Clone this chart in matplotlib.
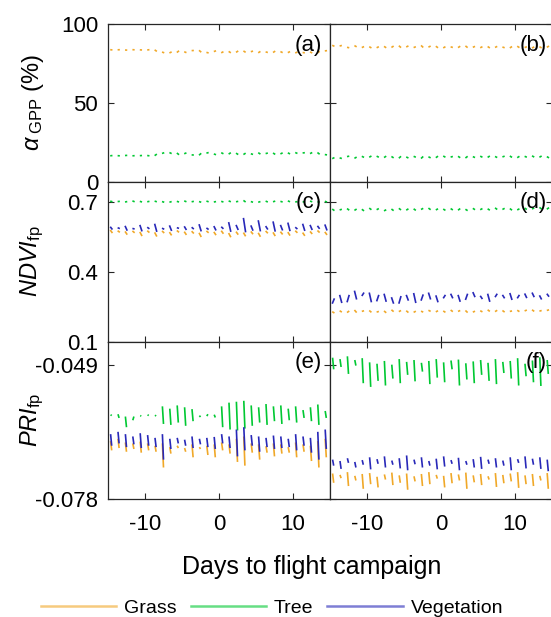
import numpy as np
import matplotlib
matplotlib.use('Agg')
import matplotlib.pyplot as plt
from matplotlib.lines import Line2D

plt.rcParams['font.family'] = 'Liberation Sans'
plt.rcParams['mathtext.fontset'] = 'custom'
plt.rcParams['mathtext.rm'] = 'Liberation Sans'
plt.rcParams['mathtext.it'] = 'Liberation Sans:italic'
plt.rcParams['axes.unicode_minus'] = False

# day index relative to the flight campaign, one daytime segment per day
days = np.arange(-15, 15)

# ---- alpha_GPP (%) : left site (a), right site (b)
grass_a_am = [83.7, 83.6, 83.5, 83.7, 83.6, 83.5, 83.6, 82.2, 81.6, 81.9, 82.4, 83.1, 83.3, 82.0, 82.5,
              81.7, 82.6, 82.0, 82.9, 82.4, 81.7, 82.3, 81.9, 82.5, 81.8, 81.6, 81.9, 82.3, 81.6, 82.9]
grass_a_pm = [83.5, 83.7, 83.4, 83.6, 83.5, 83.7, 82.6, 81.7, 82.3, 83.0, 81.8, 83.2, 82.1, 81.6, 83.0,
              82.4, 81.7, 82.9, 82.0, 82.8, 82.6, 81.9, 82.8, 81.8, 82.5, 82.2, 81.7, 81.6, 82.7, 83.1]
tree_a_am = [16.3, 16.4, 16.5, 16.3, 16.4, 16.5, 16.4, 17.8, 18.4, 18.1, 17.6, 16.9, 16.7, 18.0, 17.5,
             18.3, 17.4, 18.0, 17.1, 17.6, 18.3, 17.7, 18.1, 17.5, 18.2, 18.4, 18.1, 17.7, 18.4, 17.1]
tree_a_pm = [16.5, 16.3, 16.6, 16.4, 16.5, 16.3, 17.4, 18.3, 17.7, 17.0, 18.2, 16.8, 17.9, 18.4, 17.0,
             17.6, 18.3, 17.1, 18.0, 17.2, 17.4, 18.1, 17.2, 18.2, 17.5, 17.8, 18.3, 18.4, 17.3, 16.9]

grass_b_am = [86.5, 86.0, 85.2, 86.3, 85.0, 85.6, 84.9, 85.8, 85.1, 86.2, 85.4, 85.0, 86.4, 85.3, 85.9,
              84.8, 85.5, 85.0, 86.1, 85.2, 84.9, 85.7, 85.1, 85.4, 84.8, 85.9, 85.0, 84.7, 85.6, 85.2]
grass_b_pm = [85.8, 86.4, 84.9, 85.5, 85.7, 84.8, 85.6, 84.9, 86.0, 85.0, 86.1, 85.6, 85.1, 86.0, 84.9,
              85.6, 85.1, 85.9, 85.0, 85.8, 85.6, 84.8, 85.8, 84.9, 85.7, 85.0, 85.6, 85.5, 84.8, 86.0]
tree_b_am = [14.5, 15.0, 15.8, 14.7, 16.0, 15.4, 16.1, 15.2, 15.9, 14.8, 15.6, 16.0, 14.6, 15.7, 15.1,
             16.2, 15.5, 16.0, 14.9, 15.8, 16.1, 15.3, 15.9, 15.6, 16.2, 15.1, 16.0, 16.3, 15.4, 15.8]
tree_b_pm = [15.2, 14.6, 16.1, 15.5, 15.3, 16.2, 15.4, 16.1, 15.0, 16.0, 14.9, 15.4, 15.9, 15.0, 16.1,
             15.4, 15.9, 15.1, 16.0, 15.2, 15.4, 16.2, 15.2, 16.1, 15.3, 16.0, 15.4, 15.5, 16.2, 15.0]

# ---- NDVI_fp : (c), (d)
grass_c_am = [0.578, 0.575, 0.572, 0.574, 0.570, 0.575, 0.568, 0.574, 0.569, 0.576, 0.571, 0.573, 0.566, 0.574, 0.570,
              0.575, 0.565, 0.571, 0.567, 0.572, 0.566, 0.574, 0.568, 0.571, 0.569, 0.575, 0.567, 0.572, 0.576, 0.570]
grass_c_pm = [0.565, 0.568, 0.558, 0.566, 0.552, 0.567, 0.550, 0.565, 0.555, 0.568, 0.557, 0.563, 0.548, 0.566, 0.556,
              0.562, 0.547, 0.558, 0.551, 0.560, 0.549, 0.564, 0.552, 0.559, 0.554, 0.566, 0.553, 0.561, 0.567, 0.557]
tree_c_am = [0.702, 0.700, 0.698, 0.703, 0.701, 0.699, 0.702, 0.700, 0.697, 0.701, 0.703, 0.699, 0.700, 0.702, 0.698,
             0.701, 0.703, 0.699, 0.705, 0.700, 0.697, 0.702, 0.699, 0.701, 0.703, 0.698, 0.700, 0.702, 0.697, 0.701]
tree_c_pm = [0.699, 0.701, 0.700, 0.699, 0.698, 0.701, 0.699, 0.697, 0.700, 0.698, 0.699, 0.701, 0.697, 0.699, 0.700,
             0.698, 0.699, 0.701, 0.698, 0.697, 0.700, 0.698, 0.702, 0.698, 0.699, 0.700, 0.697, 0.699, 0.700, 0.698]
veg_c_am = [0.592, 0.588, 0.596, 0.585, 0.600, 0.590, 0.605, 0.586, 0.598, 0.588, 0.594, 0.590, 0.603, 0.587, 0.595,
            0.592, 0.612, 0.600, 0.630, 0.598, 0.620, 0.595, 0.615, 0.600, 0.610, 0.590, 0.605, 0.600, 0.596, 0.602]
veg_c_pm = [0.580, 0.584, 0.575, 0.582, 0.572, 0.583, 0.570, 0.581, 0.574, 0.585, 0.578, 0.582, 0.572, 0.580, 0.576,
            0.583, 0.570, 0.578, 0.568, 0.575, 0.572, 0.580, 0.571, 0.576, 0.573, 0.582, 0.574, 0.578, 0.583, 0.576]

grass_d_am = [0.228, 0.232, 0.224, 0.235, 0.229, 0.233, 0.226, 0.231, 0.236, 0.228, 0.232, 0.225, 0.230, 0.234, 0.227,
              0.231, 0.235, 0.229, 0.233, 0.226, 0.232, 0.236, 0.228, 0.233, 0.229, 0.234, 0.231, 0.236, 0.230, 0.233]
grass_d_pm = [0.222, 0.226, 0.231, 0.224, 0.232, 0.225, 0.229, 0.223, 0.228, 0.233, 0.224, 0.230, 0.226, 0.229, 0.232,
              0.225, 0.228, 0.233, 0.224, 0.230, 0.227, 0.229, 0.234, 0.226, 0.231, 0.228, 0.235, 0.229, 0.233, 0.236]
tree_d_am = [0.668, 0.664, 0.670, 0.662, 0.667, 0.672, 0.665, 0.660, 0.668, 0.671, 0.663, 0.669, 0.666, 0.672, 0.664,
             0.668, 0.670, 0.663, 0.667, 0.671, 0.665, 0.669, 0.673, 0.666, 0.670, 0.664, 0.672, 0.668, 0.675, 0.667]
tree_d_pm = [0.661, 0.667, 0.663, 0.668, 0.660, 0.665, 0.670, 0.665, 0.661, 0.664, 0.669, 0.662, 0.671, 0.665, 0.669,
             0.662, 0.664, 0.670, 0.661, 0.665, 0.670, 0.663, 0.666, 0.671, 0.663, 0.669, 0.666, 0.673, 0.668, 0.674]
veg_d_am = [0.262, 0.300, 0.268, 0.318, 0.295, 0.310, 0.272, 0.305, 0.290, 0.262, 0.300, 0.308, 0.275, 0.310, 0.298,
            0.285, 0.305, 0.300, 0.278, 0.312, 0.296, 0.305, 0.290, 0.300, 0.308, 0.285, 0.306, 0.310, 0.298, 0.305]
veg_d_pm = [0.285, 0.265, 0.300, 0.280, 0.310, 0.268, 0.300, 0.270, 0.262, 0.295, 0.275, 0.265, 0.302, 0.280, 0.268,
            0.300, 0.285, 0.270, 0.305, 0.290, 0.282, 0.270, 0.305, 0.285, 0.278, 0.300, 0.286, 0.290, 0.280, 0.292]

# ---- PRI_fp : (e), (f)
grass_e_am = [-0.0655, -0.0650, -0.0658, -0.0660, -0.0656, -0.0660, -0.0665, -0.0660, -0.0668, -0.0665,
              -0.0670, -0.0662, -0.0668, -0.0665, -0.0662, -0.0658, -0.0662, -0.0650, -0.0645, -0.0660,
              -0.0662, -0.0666, -0.0660, -0.0662, -0.0668, -0.0658, -0.0662, -0.0665, -0.0655, -0.0650]
grass_e_pm = [-0.0675, -0.0670, -0.0678, -0.0672, -0.0680, -0.0675, -0.0678, -0.0712, -0.0682, -0.0670,
              -0.0678, -0.0690, -0.0672, -0.0685, -0.0690, -0.0675, -0.0682, -0.0700, -0.0708, -0.0680,
              -0.0695, -0.0680, -0.0688, -0.0682, -0.0680, -0.0690, -0.0678, -0.0698, -0.0712, -0.0690]
tree_e_am = [-0.0598, -0.0597, -0.0602, -0.0610, -0.0600, -0.0598, -0.0599, -0.0580, -0.0585, -0.0578,
             -0.0582, -0.0586, -0.0600, -0.0601, -0.0598, -0.0580, -0.0572, -0.0570, -0.0568, -0.0578,
             -0.0582, -0.0575, -0.0580, -0.0578, -0.0585, -0.0580, -0.0588, -0.0582, -0.0576, -0.0590]
tree_e_pm = [-0.0600, -0.0605, -0.0625, -0.0602, -0.0601, -0.0600, -0.0601, -0.0618, -0.0620, -0.0615,
             -0.0622, -0.0612, -0.0603, -0.0597, -0.0604, -0.0625, -0.0630, -0.0632, -0.0628, -0.0622,
             -0.0615, -0.0620, -0.0612, -0.0618, -0.0610, -0.0615, -0.0605, -0.0612, -0.0620, -0.0605]
veg_e_am = [-0.0640, -0.0635, -0.0640, -0.0645, -0.0638, -0.0642, -0.0648, -0.0640, -0.0650, -0.0648,
            -0.0652, -0.0645, -0.0650, -0.0648, -0.0646, -0.0640, -0.0645, -0.0630, -0.0625, -0.0642,
            -0.0645, -0.0648, -0.0643, -0.0645, -0.0650, -0.0640, -0.0645, -0.0648, -0.0635, -0.0630]
veg_e_pm = [-0.0665, -0.0660, -0.0668, -0.0662, -0.0670, -0.0665, -0.0668, -0.0695, -0.0672, -0.0660,
            -0.0665, -0.0670, -0.0662, -0.0668, -0.0672, -0.0660, -0.0670, -0.0688, -0.0675, -0.0665,
            -0.0678, -0.0668, -0.0672, -0.0670, -0.0668, -0.0675, -0.0665, -0.0680, -0.0695, -0.0672]

grass_f_am = [-0.0725, -0.0728, -0.0722, -0.0730, -0.0726, -0.0724, -0.0732, -0.0727, -0.0723, -0.0729,
              -0.0725, -0.0731, -0.0726, -0.0722, -0.0728, -0.0730, -0.0724, -0.0727, -0.0723, -0.0729,
              -0.0726, -0.0731, -0.0724, -0.0728, -0.0725, -0.0722, -0.0729, -0.0726, -0.0730, -0.0724]
grass_f_pm = [-0.0745, -0.0735, -0.0752, -0.0740, -0.0758, -0.0748, -0.0755, -0.0738, -0.0750, -0.0745,
              -0.0760, -0.0742, -0.0752, -0.0748, -0.0736, -0.0755, -0.0746, -0.0740, -0.0758, -0.0744,
              -0.0750, -0.0738, -0.0754, -0.0746, -0.0742, -0.0756, -0.0748, -0.0752, -0.0740, -0.0758]
tree_f_am = [-0.0475, -0.0478, -0.0472, -0.0480, -0.0476, -0.0485, -0.0488, -0.0482, -0.0490, -0.0478,
             -0.0484, -0.0480, -0.0486, -0.0482, -0.0478, -0.0485, -0.0481, -0.0479, -0.0487, -0.0483,
             -0.0480, -0.0486, -0.0478, -0.0484, -0.0482, -0.0476, -0.0488, -0.0481, -0.0474, -0.0480]
tree_f_pm = [-0.0500, -0.0495, -0.0510, -0.0492, -0.0530, -0.0538, -0.0525, -0.0535, -0.0520, -0.0530,
             -0.0512, -0.0526, -0.0505, -0.0532, -0.0518, -0.0528, -0.0500, -0.0535, -0.0522, -0.0530,
             -0.0512, -0.0525, -0.0532, -0.0508, -0.0520, -0.0535, -0.0515, -0.0528, -0.0536, -0.0510]
veg_f_am = [-0.0695, -0.0698, -0.0692, -0.0700, -0.0696, -0.0690, -0.0694, -0.0688, -0.0697, -0.0692,
            -0.0686, -0.0695, -0.0690, -0.0698, -0.0693, -0.0688, -0.0696, -0.0691, -0.0698, -0.0694,
            -0.0689, -0.0695, -0.0692, -0.0697, -0.0690, -0.0694, -0.0688, -0.0693, -0.0690, -0.0695]
veg_f_pm = [-0.0708, -0.0715, -0.0702, -0.0712, -0.0706, -0.0716, -0.0704, -0.0712, -0.0706, -0.0714,
            -0.0718, -0.0705, -0.0712, -0.0708, -0.0716, -0.0710, -0.0704, -0.0718, -0.0706, -0.0712,
            -0.0715, -0.0704, -0.0712, -0.0708, -0.0718, -0.0702, -0.0714, -0.0706, -0.0715, -0.0720]

c_grass = '#F0A828'
c_tree = '#00C832'
c_veg = '#2828B8'

y_limits = [(0, 100), (0.1, 0.786), (-0.078, -0.044)]
y_ticks = [[0, 50, 100], [0.1, 0.4, 0.7], [-0.078, -0.049]]
y_ticklabels = [['0', '50', '100'], ['0.1', '0.4', '0.7'], ['-0.078', '-0.049']]
y_labels = [r'$\alpha_{\;\mathrm{GPP}}$ (%)', r'$NDVI_{\mathrm{fp}}$', r'$PRI_{\mathrm{fp}}$']
x_ticks = [-10, 0, 10]
panel_tags = [['(a)', '(b)'], ['(c)', '(d)'], ['(e)', '(f)']]

panels = [
    [[(grass_a_am, grass_a_pm, c_grass), (tree_a_am, tree_a_pm, c_tree)],
     [(grass_b_am, grass_b_pm, c_grass), (tree_b_am, tree_b_pm, c_tree)]],
    [[(grass_c_am, grass_c_pm, c_grass), (tree_c_am, tree_c_pm, c_tree), (veg_c_am, veg_c_pm, c_veg)],
     [(grass_d_am, grass_d_pm, c_grass), (tree_d_am, tree_d_pm, c_tree), (veg_d_am, veg_d_pm, c_veg)]],
    [[(grass_e_am, grass_e_pm, c_grass), (tree_e_am, tree_e_pm, c_tree), (veg_e_am, veg_e_pm, c_veg)],
     [(grass_f_am, grass_f_pm, c_grass), (tree_f_am, tree_f_pm, c_tree), (veg_f_am, veg_f_pm, c_veg)]],
]


def day_segments(am, pm, t0=0.3, t1=0.6):
    """One short daytime segment per day, broken by NaN at night."""
    xs, ys = [], []
    for d, a, p in zip(days, am, pm):
        xs += [d + t0, d + t1, np.nan]
        ys += [a, p, np.nan]
    return xs, ys


W, H = 551, 617
fig = plt.figure(figsize=(W / 100, H / 100), dpi=100)

col_left = [108, 330]
col_width = 222
row_top = [24, 181.5, 341.5]
row_bottom = [181.5, 341.5, 499]

for r in range(3):
    for c in range(2):
        ax = fig.add_axes([col_left[c] / W, 1 - row_bottom[r] / H,
                           col_width / W, (row_bottom[r] - row_top[r]) / H])
        for am, pm, col in panels[r][c]:
            # PRI swings within a day show up as near-vertical strokes
            if r == 2:
                xs, ys = day_segments(am, pm, 0.35, 0.5)
            else:
                xs, ys = day_segments(am, pm)
            ax.plot(xs, ys, color=col, lw=1.2, solid_capstyle='butt')

        ax.set_xlim(-15, 15)
        ax.set_ylim(*y_limits[r])
        ax.set_xticks(x_ticks)
        ax.set_yticks(y_ticks[r])
        ax.tick_params(direction='in', top=True, right=True, length=4, width=0.8,
                       color='#262626', labelsize=16)
        ax.tick_params(axis='x', pad=11)
        ax.tick_params(axis='y', pad=7)
        for s in ax.spines.values():
            s.set_color('#262626')
            s.set_linewidth(0.9)

        if c == 0:
            ax.set_yticklabels(y_ticklabels[r])
            ax.set_ylabel(y_labels[r], fontsize=17)
            ax.yaxis.set_label_coords(-0.28, 0.5)
        else:
            ax.set_yticklabels([])
        if r < 2:
            ax.set_xticklabels([])

        ax.text(0.965 if c == 0 else 0.975, 1 - 21 / (row_bottom[r] - row_top[r]),
                panel_tags[r][c], transform=ax.transAxes, ha='right', va='center', fontsize=16)

fig.text(312 / W, 1 - 567 / H, 'Days to flight campaign', ha='center', va='center', fontsize=18)

handles = [Line2D([], [], color=c_grass, lw=1.8, alpha=0.6),
           Line2D([], [], color=c_tree, lw=1.8, alpha=0.6),
           Line2D([], [], color=c_veg, lw=1.8, alpha=0.6)]
fig.legend(handles, ['Grass', 'Tree', 'Vegetation'], ncol=3, loc='center',
           bbox_to_anchor=(272 / W, 1 - 608 / H), frameon=False, fontsize=14,
           handlelength=3.9, handletextpad=0.4, columnspacing=0.7)

fig.savefig('out.png', dpi=100)
